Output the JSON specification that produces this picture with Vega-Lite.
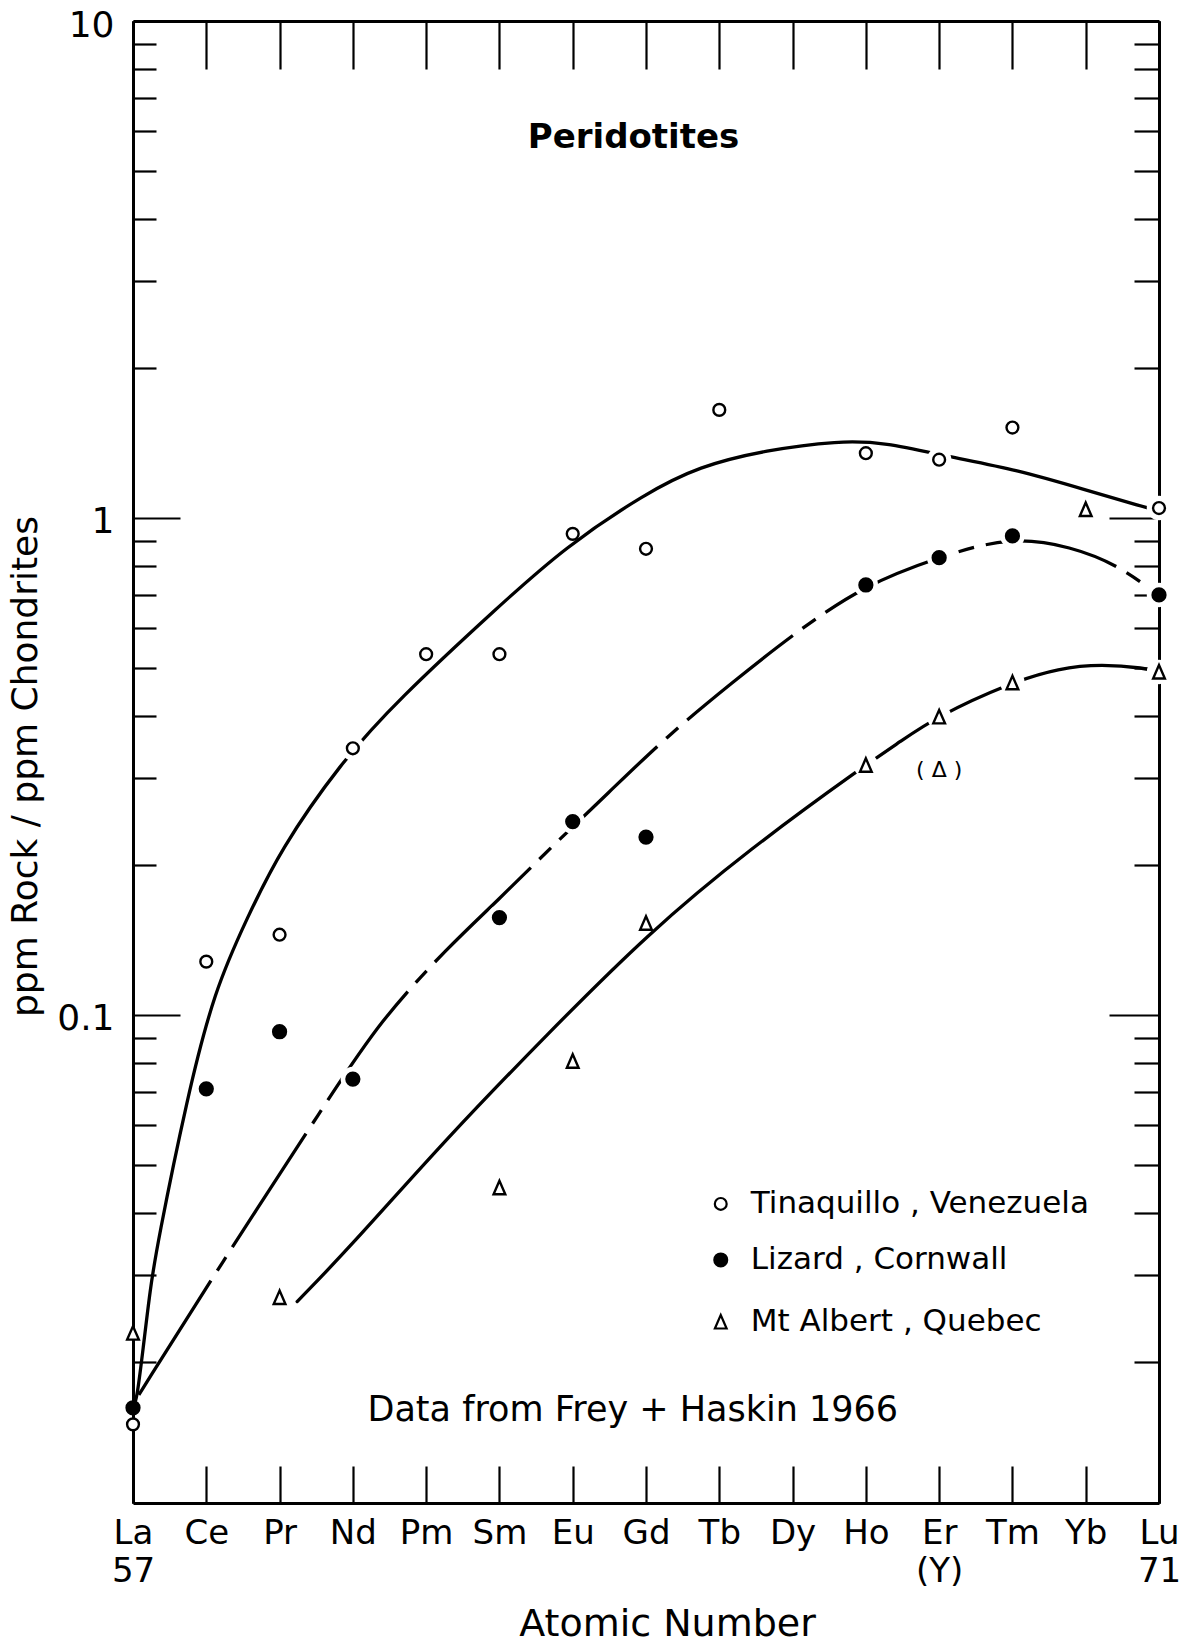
{
  "$schema": "https://vega.github.io/schema/vega-lite/v6.json",
  "width": 1026,
  "height": 1482,
  "autosize": {"type": "none"},
  "padding": {"left": 133, "top": 21, "right": 26, "bottom": 143},
  "background": "white",
  "config": {
    "view": {"stroke": null},
    "font": "DejaVu Sans",
    "axis": {
      "grid": false,
      "domainColor": "black",
      "domainWidth": 3,
      "tickColor": "black",
      "tickWidth": 2.2,
      "labelColor": "black",
      "titleColor": "black",
      "labelFont": "DejaVu Sans",
      "titleFont": "DejaVu Sans",
      "titleFontWeight": "normal",
      "labelFlush": false,
      "labelOverlap": false
    }
  },
  "datasets": {
    "points": [
      {"series": "Tinaquillo, Venezuela", "element": "La", "z": 57, "ratio": 0.0150},
      {"series": "Tinaquillo, Venezuela", "element": "Ce", "z": 58, "ratio": 0.128},
      {"series": "Tinaquillo, Venezuela", "element": "Pr", "z": 59, "ratio": 0.145},
      {"series": "Tinaquillo, Venezuela", "element": "Nd", "z": 60, "ratio": 0.344},
      {"series": "Tinaquillo, Venezuela", "element": "Pm", "z": 61, "ratio": 0.532},
      {"series": "Tinaquillo, Venezuela", "element": "Sm", "z": 62, "ratio": 0.532},
      {"series": "Tinaquillo, Venezuela", "element": "Eu", "z": 63, "ratio": 0.929},
      {"series": "Tinaquillo, Venezuela", "element": "Gd", "z": 64, "ratio": 0.867},
      {"series": "Tinaquillo, Venezuela", "element": "Tb", "z": 65, "ratio": 1.65},
      {"series": "Tinaquillo, Venezuela", "element": "Ho", "z": 67, "ratio": 1.35},
      {"series": "Tinaquillo, Venezuela", "element": "Er", "z": 68, "ratio": 1.31},
      {"series": "Tinaquillo, Venezuela", "element": "Tm", "z": 69, "ratio": 1.52},
      {"series": "Tinaquillo, Venezuela", "element": "Lu", "z": 71, "ratio": 1.047},
      {"series": "Lizard, Cornwall", "element": "La", "z": 57, "ratio": 0.0162},
      {"series": "Lizard, Cornwall", "element": "Ce", "z": 58, "ratio": 0.071},
      {"series": "Lizard, Cornwall", "element": "Pr", "z": 59, "ratio": 0.0925},
      {"series": "Lizard, Cornwall", "element": "Nd", "z": 60, "ratio": 0.0743},
      {"series": "Lizard, Cornwall", "element": "Sm", "z": 62, "ratio": 0.157},
      {"series": "Lizard, Cornwall", "element": "Eu", "z": 63, "ratio": 0.245},
      {"series": "Lizard, Cornwall", "element": "Gd", "z": 64, "ratio": 0.228},
      {"series": "Lizard, Cornwall", "element": "Ho", "z": 67, "ratio": 0.733},
      {"series": "Lizard, Cornwall", "element": "Er", "z": 68, "ratio": 0.832},
      {"series": "Lizard, Cornwall", "element": "Tm", "z": 69, "ratio": 0.920},
      {"series": "Lizard, Cornwall", "element": "Lu", "z": 71, "ratio": 0.700},
      {"series": "Mt Albert, Quebec", "element": "La", "z": 57, "ratio": 0.0229},
      {"series": "Mt Albert, Quebec", "element": "Pr", "z": 59, "ratio": 0.027},
      {"series": "Mt Albert, Quebec", "element": "Sm", "z": 62, "ratio": 0.0449},
      {"series": "Mt Albert, Quebec", "element": "Eu", "z": 63, "ratio": 0.0807},
      {"series": "Mt Albert, Quebec", "element": "Gd", "z": 64, "ratio": 0.153},
      {"series": "Mt Albert, Quebec", "element": "Ho", "z": 67, "ratio": 0.318},
      {"series": "Mt Albert, Quebec", "element": "Er", "z": 68, "ratio": 0.398},
      {"series": "Mt Albert, Quebec", "element": "Tm", "z": 69, "ratio": 0.466},
      {"series": "Mt Albert, Quebec", "element": "Yb", "z": 70, "ratio": 1.04},
      {"series": "Mt Albert, Quebec", "element": "Lu", "z": 71, "ratio": 0.490}
    ],
    "doubtful": [
      {"series": "Mt Albert, Quebec", "element": "Er", "z": 68, "ratio": 0.311}
    ],
    "curves": [
      {"series": "Tinaquillo, Venezuela", "z": 57.02, "ratio": 0.0165},
      {"series": "Tinaquillo, Venezuela", "z": 57.055, "ratio": 0.0170},
      {"series": "Tinaquillo, Venezuela", "z": 57.137, "ratio": 0.0212},
      {"series": "Tinaquillo, Venezuela", "z": 57.233, "ratio": 0.0280},
      {"series": "Tinaquillo, Venezuela", "z": 57.33, "ratio": 0.0345},
      {"series": "Tinaquillo, Venezuela", "z": 57.74, "ratio": 0.0684},
      {"series": "Tinaquillo, Venezuela", "z": 58.11, "ratio": 0.112},
      {"series": "Tinaquillo, Venezuela", "z": 58.56, "ratio": 0.157},
      {"series": "Tinaquillo, Venezuela", "z": 59.01, "ratio": 0.215},
      {"series": "Tinaquillo, Venezuela", "z": 59.83, "ratio": 0.321},
      {"series": "Tinaquillo, Venezuela", "z": 60.61, "ratio": 0.430},
      {"series": "Tinaquillo, Venezuela", "z": 61.98, "ratio": 0.662},
      {"series": "Tinaquillo, Venezuela", "z": 62.90, "ratio": 0.875},
      {"series": "Tinaquillo, Venezuela", "z": 63.99, "ratio": 1.12},
      {"series": "Tinaquillo, Venezuela", "z": 64.72, "ratio": 1.27},
      {"series": "Tinaquillo, Venezuela", "z": 65.64, "ratio": 1.37},
      {"series": "Tinaquillo, Venezuela", "z": 66.63, "ratio": 1.43},
      {"series": "Tinaquillo, Venezuela", "z": 67.25, "ratio": 1.42},
      {"series": "Tinaquillo, Venezuela", "z": 68.11, "ratio": 1.33},
      {"series": "Tinaquillo, Venezuela", "z": 69.07, "ratio": 1.25},
      {"series": "Tinaquillo, Venezuela", "z": 69.99, "ratio": 1.14},
      {"series": "Tinaquillo, Venezuela", "z": 70.81, "ratio": 1.05},
      {"series": "Tinaquillo, Venezuela", "z": 70.95, "ratio": 1.04},
      {"series": "Lizard, Cornwall", "z": 57.08, "ratio": 0.0172},
      {"series": "Lizard, Cornwall", "z": 58.15, "ratio": 0.0307},
      {"series": "Lizard, Cornwall", "z": 59.66, "ratio": 0.0675},
      {"series": "Lizard, Cornwall", "z": 60.38, "ratio": 0.0977},
      {"series": "Lizard, Cornwall", "z": 61.30, "ratio": 0.137},
      {"series": "Lizard, Cornwall", "z": 61.98, "ratio": 0.170},
      {"series": "Lizard, Cornwall", "z": 62.67, "ratio": 0.215},
      {"series": "Lizard, Cornwall", "z": 63.49, "ratio": 0.280},
      {"series": "Lizard, Cornwall", "z": 64.27, "ratio": 0.362},
      {"series": "Lizard, Cornwall", "z": 65.17, "ratio": 0.466},
      {"series": "Lizard, Cornwall", "z": 66.09, "ratio": 0.596},
      {"series": "Lizard, Cornwall", "z": 66.99, "ratio": 0.733},
      {"series": "Lizard, Cornwall", "z": 67.96, "ratio": 0.831},
      {"series": "Lizard, Cornwall", "z": 68.97, "ratio": 0.920},
      {"series": "Lizard, Cornwall", "z": 69.81, "ratio": 0.875},
      {"series": "Lizard, Cornwall", "z": 70.44, "ratio": 0.804},
      {"series": "Lizard, Cornwall", "z": 70.99, "ratio": 0.700},
      {"series": "Mt Albert, Quebec", "z": 59.24, "ratio": 0.0265},
      {"series": "Mt Albert, Quebec", "z": 59.93, "ratio": 0.0337},
      {"series": "Mt Albert, Quebec", "z": 61.30, "ratio": 0.0569},
      {"series": "Mt Albert, Quebec", "z": 62.67, "ratio": 0.0920},
      {"series": "Mt Albert, Quebec", "z": 64.03, "ratio": 0.146},
      {"series": "Mt Albert, Quebec", "z": 65.40, "ratio": 0.215},
      {"series": "Mt Albert, Quebec", "z": 66.99, "ratio": 0.318},
      {"series": "Mt Albert, Quebec", "z": 67.46, "ratio": 0.354},
      {"series": "Mt Albert, Quebec", "z": 67.96, "ratio": 0.398},
      {"series": "Mt Albert, Quebec", "z": 68.97, "ratio": 0.466},
      {"series": "Mt Albert, Quebec", "z": 69.64, "ratio": 0.499},
      {"series": "Mt Albert, Quebec", "z": 70.22, "ratio": 0.508},
      {"series": "Mt Albert, Quebec", "z": 70.81, "ratio": 0.499},
      {"series": "Mt Albert, Quebec", "z": 71.0, "ratio": 0.490}
    ]
  },
  "layer": [
    {
      "data": {"name": "curves"},
      "transform": [{"filter": "datum.series != 'Lizard, Cornwall'"}],
      "mark": {"type": "line", "color": "black", "strokeWidth": 3.3, "interpolate": "basis", "strokeCap": "round"},
      "encoding": {
        "x": {
          "field": "z", "type": "quantitative",
          "scale": {"type": "linear", "domain": [57, 71], "nice": false, "zero": false},
          "axis": {
            "orient": "bottom",
            "values": [57, 58, 59, 60, 61, 62, 63, 64, 65, 66, 67, 68, 69, 70, 71],
            "labelExpr": "datum.value == 57 ? ['La', '57'] : datum.value == 68 ? ['Er', '(Y)'] : datum.value == 71 ? ['Lu', '71'] : ['La','Ce','Pr','Nd','Pm','Sm','Eu','Gd','Tb','Dy','Ho','Er','Tm','Yb','Lu'][datum.value - 57]",
            "labelFontSize": 34,
            "labelBaseline": "top",
            "labelLineHeight": 38,
            "labelPadding": 50,
            "tickSize": -37,
            "title": "Atomic Number",
            "titleFontSize": 38,
            "titleX": 534,
            "titleY": 121,
            "titleBaseline": "middle",
            "titleAlign": "center"
          }
        },
        "y": {
          "field": "ratio", "type": "quantitative",
          "scale": {"type": "log", "domain": [0.01042, 10], "nice": false},
          "axis": {
            "orient": "left",
            "values": [0.1, 1, 10],
            "labelExpr": "datum.value >= 10 ? '10' : datum.value >= 1 ? '1' : '0.1'",
            "labelFontSize": 36,
            "labelPadding": 66,
            "labelOffset": 4,
            "labelBaseline": "middle",
            "tickSize": -47,
            "title": "ppm Rock / ppm Chondrites",
            "titleFontSize": 36,
            "titleX": -108,
            "titleY": 745,
            "titleAngle": -90,
            "titleAlign": "center",
            "titleBaseline": "middle"
          }
        },
        "detail": {"field": "series"}
      }
    },
    {
      "data": {"name": "curves"},
      "transform": [{"filter": "datum.series == 'Lizard, Cornwall'"}],
      "mark": {"type": "line", "color": "black", "strokeWidth": 3.3, "interpolate": "basis", "strokeDash": [135, 12, 16, 12]},
      "encoding": {
        "x": {
          "field": "z", "type": "quantitative",
          "axis": {
            "orient": "top",
            "values": [57, 58, 59, 60, 61, 62, 63, 64, 65, 66, 67, 68, 69, 70, 71],
            "labels": false,
            "tickSize": -48,
            "title": null
          }
        },
        "y": {
          "field": "ratio", "type": "quantitative",
          "axis": {
            "orient": "left",
            "values": [0.02, 0.03, 0.04, 0.05, 0.06, 0.07, 0.08, 0.09, 0.2, 0.3, 0.4, 0.5, 0.6, 0.7, 0.8, 0.9, 2, 3, 4, 5, 6, 7, 8, 9],
            "labels": false,
            "tickSize": -23,
            "title": null
          }
        }
      }
    },
    {
      "data": {"name": "points"},
      "transform": [{"filter": "(datum.series == 'Tinaquillo, Venezuela' && indexof([60, 68, 71], datum.z) >= 0) || (datum.series == 'Lizard, Cornwall' && datum.z > 57) || (datum.series == 'Mt Albert, Quebec' && indexof([67, 68, 69, 71], datum.z) >= 0)"}],
      "mark": {"type": "point", "shape": "circle", "filled": true, "color": "white", "opacity": 1, "size": 600, "strokeWidth": 0},
      "encoding": {
        "x": {"field": "z", "type": "quantitative", "axis": null},
        "y": {
          "field": "ratio", "type": "quantitative",
          "axis": {
            "orient": "right",
            "values": [0.02, 0.03, 0.04, 0.05, 0.06, 0.07, 0.08, 0.09, 0.2, 0.3, 0.4, 0.5, 0.6, 0.7, 0.8, 0.9, 2, 3, 4, 5, 6, 7, 8, 9],
            "labels": false,
            "tickSize": -25,
            "title": null
          }
        }
      }
    },
    {
      "data": {"name": "points"},
      "mark": {"type": "point", "filled": true, "opacity": 1, "stroke": "black", "strokeWidth": 2.4},
      "encoding": {
        "x": {"field": "z", "type": "quantitative", "axis": null},
        "y": {
          "field": "ratio", "type": "quantitative",
          "axis": {
            "orient": "right",
            "values": [0.1, 1],
            "labels": false,
            "tickSize": -50,
            "title": null
          }
        },
        "shape": {
          "field": "series", "type": "nominal",
          "scale": {
            "domain": ["Tinaquillo, Venezuela", "Lizard, Cornwall", "Mt Albert, Quebec"],
            "range": ["circle", "circle", "M0,-1L-0.85,0.95L0.85,0.95Z"]
          },
          "legend": null
        },
        "fill": {
          "field": "series", "type": "nominal",
          "scale": {
            "domain": ["Tinaquillo, Venezuela", "Lizard, Cornwall", "Mt Albert, Quebec"],
            "range": ["white", "black", "white"]
          },
          "legend": null
        },
        "size": {
          "field": "series", "type": "nominal",
          "scale": {
            "domain": ["Tinaquillo, Venezuela", "Lizard, Cornwall", "Mt Albert, Quebec"],
            "range": [140, 190, 230]
          },
          "legend": null
        },
        "tooltip": [
          {"field": "series", "type": "nominal"},
          {"field": "element", "type": "nominal"},
          {"field": "ratio", "type": "quantitative"}
        ]
      }
    },
    {
      "data": {"name": "doubtful"},
      "mark": {"type": "text", "text": "( Δ )", "fontSize": 22, "font": "DejaVu Sans", "color": "black", "baseline": "middle", "align": "center"},
      "encoding": {
        "x": {"field": "z", "type": "quantitative", "axis": null},
        "y": {"field": "ratio", "type": "quantitative", "axis": null}
      }
    },
    {
      "data": {"values": [{"series": "Tinaquillo, Venezuela"}]},
      "layer": [
        {
          "mark": {"type": "point", "filled": true, "opacity": 1, "stroke": "black", "strokeWidth": 2.2},
          "encoding": {
            "x": {"datum": 65.02, "type": "quantitative", "axis": null},
            "y": {"datum": 0.04166, "type": "quantitative", "axis": null},
            "shape": {"field": "series", "type": "nominal", "legend": null},
            "fill": {"field": "series", "type": "nominal", "legend": null},
            "size": {"field": "series", "type": "nominal", "legend": null}
          }
        },
        {
          "mark": {"type": "text", "text": "Tinaquillo , Venezuela", "fontSize": 31, "font": "DejaVu Sans", "color": "black", "align": "left", "baseline": "middle"},
          "encoding": {
            "x": {"datum": 65.43, "type": "quantitative", "axis": null},
            "y": {"datum": 0.04166, "type": "quantitative", "axis": null}
          }
        }
      ]
    },
    {
      "data": {"values": [{"series": "Lizard, Cornwall"}]},
      "layer": [
        {
          "mark": {"type": "point", "filled": true, "opacity": 1, "stroke": "black", "strokeWidth": 2.2},
          "encoding": {
            "x": {"datum": 65.02, "type": "quantitative", "axis": null},
            "y": {"datum": 0.03214, "type": "quantitative", "axis": null},
            "shape": {"field": "series", "type": "nominal", "legend": null},
            "fill": {"field": "series", "type": "nominal", "legend": null},
            "size": {"field": "series", "type": "nominal", "legend": null}
          }
        },
        {
          "mark": {"type": "text", "text": "Lizard , Cornwall", "fontSize": 31, "font": "DejaVu Sans", "color": "black", "align": "left", "baseline": "middle"},
          "encoding": {
            "x": {"datum": 65.43, "type": "quantitative", "axis": null},
            "y": {"datum": 0.03214, "type": "quantitative", "axis": null}
          }
        }
      ]
    },
    {
      "data": {"values": [{"series": "Mt Albert, Quebec"}]},
      "layer": [
        {
          "mark": {"type": "point", "filled": true, "opacity": 1, "stroke": "black", "strokeWidth": 2.2},
          "encoding": {
            "x": {"datum": 65.02, "type": "quantitative", "axis": null},
            "y": {"datum": 0.02411, "type": "quantitative", "axis": null},
            "shape": {"field": "series", "type": "nominal", "legend": null},
            "fill": {"field": "series", "type": "nominal", "legend": null},
            "size": {"field": "series", "type": "nominal", "legend": null}
          }
        },
        {
          "mark": {"type": "text", "text": "Mt Albert , Quebec", "fontSize": 31, "font": "DejaVu Sans", "color": "black", "align": "left", "baseline": "middle"},
          "encoding": {
            "x": {"datum": 65.43, "type": "quantitative", "axis": null},
            "y": {"datum": 0.02411, "type": "quantitative", "axis": null}
          }
        }
      ]
    },
    {
      "data": {"values": [{}]},
      "mark": {"type": "text", "text": "Peridotites", "fontSize": 34, "fontWeight": "bold", "font": "DejaVu Sans", "color": "black", "baseline": "middle", "align": "center"},
      "encoding": {
        "x": {"datum": 63.83, "type": "quantitative", "axis": null},
        "y": {"datum": 5.82, "type": "quantitative", "axis": null}
      }
    },
    {
      "data": {"values": [{}]},
      "mark": {"type": "text", "text": "Data from Frey + Haskin 1966", "fontSize": 35, "font": "DejaVu Sans", "color": "black", "baseline": "middle", "align": "center"},
      "encoding": {
        "x": {"datum": 63.82, "type": "quantitative", "axis": null},
        "y": {"datum": 0.016, "type": "quantitative", "axis": null}
      }
    }
  ],
  "resolve": {"axis": {"x": "independent", "y": "independent"}}
}
